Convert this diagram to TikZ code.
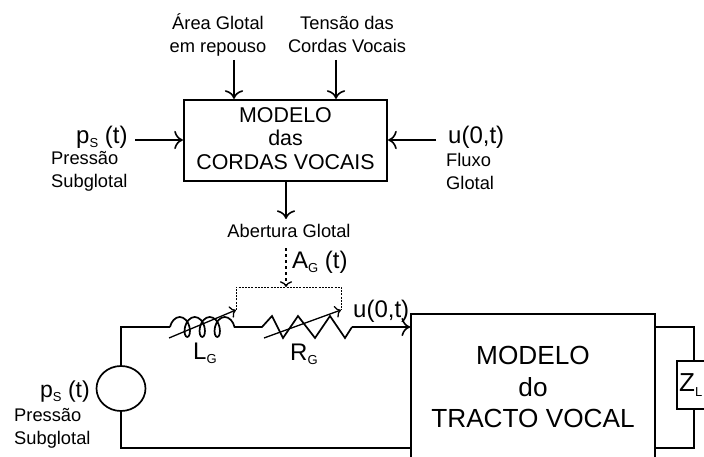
\documentclass[tikz,border=0pt]{standalone}
\usepackage{fontspec}
\setmainfont{Liberation Sans}
\usetikzlibrary{arrows.meta}
\usetikzlibrary{decorations.pathmorphing}
\usetikzlibrary{shapes.geometric}

\newcommand{\subs}[1]{\raisebox{-0.3ex}{\fontsize{13}{13}\selectfont #1}}
\tikzset{
	wire/.style={line width=1.7pt},
	flow/.style={line width=1.6pt,-{>[scale=1.7]}},
	ctrl/.style={line width=0.8pt,dash pattern=on 2pt off 1.2pt},
	thin tip/.style={line width=1.3pt,-{>[scale=1.3]}},
	block/.style={draw,rectangle,inner sep=0pt},
	small/.style={font=\fontsize{18.3}{23}\selectfont,align=left,inner sep=0pt},
	smallc/.style={small,align=center},
	medium/.style={font=\fontsize{21.4}{23.5}\selectfont,inner sep=0pt},
	big/.style={font=\fontsize{24}{25}\selectfont,inner sep=0pt},
	large/.style={font=\fontsize{26.2}{31.5}\selectfont,align=center,inner sep=0pt}
}

\begin{document}
\begin{tikzpicture}[x=1pt,y=-1pt]
		\useasboundingbox (0, 0) rectangle (704, 457);
		\clip (0, 0) rectangle (704, 457);
		% upper block
		\node [block,line width=2.2pt,minimum width=203pt,minimum height=81pt] (cordas) at (285.5, 140.5) {};
		\node [medium,align=center] (cordastxt) at (285.5, 138.5) {MODELO\\das\\CORDAS VOCAIS};
		\node [smallc] (area) at (218, 34.5) {Área Glotal\\em repouso};
		\node [smallc] (tensao) at (347, 34.5) {Tensão das\\Cordas Vocais};
		\node [big,anchor=west] (psup) at (76, 137) {p\subs{S} (t)};
		\node [small,anchor=west] (pressup) at (51, 171.5) {Pressão\\Subglotal};
		\node [big,anchor=west] (uup) at (448, 137) {u(0,t)};
		\node [small,anchor=west] (fluxo) at (446, 171.5) {Fluxo\\Glotal};
		\node [small] (abertura) at (289, 231) {Abertura Glotal};
		\coordinate (areaend) at (234, 60);
		\coordinate (tensaoend) at (336, 60);
		\coordinate (psend) at (135, 140);
		\coordinate (uend) at (436, 140);
		\coordinate (abertop) at (286, 219);
		\draw [flow] (areaend) -- (areaend |- cordas.north);
		\draw [flow] (tensaoend) -- (tensaoend |- cordas.north);
		\draw [flow] (psend) -- (psend -| cordas.west);
		\draw [flow] (uend) -- (uend -| cordas.east);
		\draw [flow] (abertop |- cordas.south) -- (abertop);
		% lower circuit
		\node [block,wire,large,minimum width=244pt,minimum height=146pt] (tracto) at (533, 387) {MODELO\\do\\TRACTO VOCAL};
		\node [draw,ellipse,wire,minimum width=49pt,minimum height=45pt,inner sep=0pt] (fonte) at (121, 388.5) {};
		\node [block,wire,anchor=west,minimum width=40pt,minimum height=48pt] (zl) at (676, 385) {};
		\node [font=\fontsize{26}{26}\selectfont,inner sep=0pt,anchor=west] (zltxt) at (679, 385) {Z\subs{L}};
		\coordinate (cantotop) at (121, 327);
		\coordinate (cantobot) at (121, 448);
		\coordinate (coilin) at (170, 327);
		\coordinate (coilout) at (240, 327);
		\coordinate (resin) at (262, 327);
		\coordinate (resout) at (352, 327);
		\coordinate (ztop) at (694, 327);
		\coordinate (zbot) at (694, 448);
		\draw [wire] (fonte.north) -- (cantotop) -- (coilin);
		\draw [wire] (fonte.south) -- (cantobot) -- (cantobot -| tracto.west);
		\draw [wire,decorate,decoration={coil,amplitude=10pt,segment length=15pt,aspect=0.6}] (coilin) -- (coilout);
		\draw [wire] (coilout) -- (resin) -- (272, 316) -- (283, 338) -- (298, 316) -- (315, 338) -- (330, 316) -- (345, 338) -- (resout);
		\draw [flow] (resout) -- (resout -| tracto.west);
		\draw [wire] (tracto.east |- ztop) -- (ztop) -- (ztop |- zl.north);
		\draw [wire] (tracto.east |- zbot) -- (zbot) -- (zbot |- zl.south);
		\coordinate (lgtail) at (169, 338);
		\coordinate (lghead) at (236, 310);
		\coordinate (rgtail) at (264, 338);
		\coordinate (rghead) at (341, 310);
		\coordinate (ctrlmid) at (286, 287);
		\coordinate (agtop) at (286, 248);
		\draw [thin tip] (lgtail) -- (lghead);
		\draw [thin tip] (rgtail) -- (rghead);
		\draw [ctrl] (lghead) -- (lghead |- ctrlmid) -- (rghead |- ctrlmid) -- (rghead);
		\draw [thin tip,dashed] (agtop) -- (ctrlmid);
		\node [big,anchor=west] (ag) at (292, 262) {A\subs{G} (t)};
		\node [big,anchor=west] (lg) at (193, 353) {L\subs{G}};
		\node [big,anchor=west] (rg) at (290, 354) {R\subs{G}};
		\node [big,anchor=west] (uin) at (353, 311) {u(0,t)};
		\node [font=\fontsize{23}{25}\selectfont,inner sep=0pt,anchor=west] (psin) at (40, 392) {p\subs{S} (t)};
		\node [small,anchor=west] (pressin) at (14, 428) {Pressão\\Subglotal};
	\end{tikzpicture}
\end{document}
